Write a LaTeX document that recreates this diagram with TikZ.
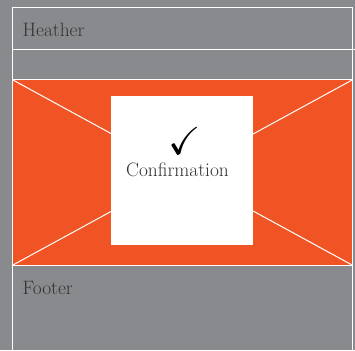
\documentclass[tikz,border=0pt]{standalone}
\usepackage{amssymb}
\usepackage{graphicx}
\usetikzlibrary{positioning}

\definecolor{pagegray}{HTML}{898A8E}
\definecolor{bannerorange}{HTML}{F15424}
\definecolor{inkgray}{HTML}{333333}

\begin{document}
\begin{tikzpicture}[x=1pt, y=-1pt,
    row/.style={draw=white, line width=1pt, minimum width=340pt, inner sep=0pt, anchor=north west},
    caption/.style={font=\fontsize{19.4}{22}\selectfont, text=inkgray, inner sep=0pt},
]
\clip (0,0) rectangle (355,350);
\fill[pagegray] (0,0) rectangle (355,350);
\node[row, minimum height=42.5pt] (header) at (12,7) {};
\node[row, minimum height=30pt] (spacer) at (12,49.5) {};
\node[row, minimum height=185pt, fill=bannerorange] (banner) at (12,79.5) {};
\node[row, minimum height=100pt] (footer) at (12,264.5) {};
% header rule runs on to the page edge
\coordinate (edge) at (355,49.5);
\draw[white, line width=1pt] (spacer.north east) -- (edge);
\draw[white, line width=1pt] (banner.north west) -- (banner.south east);
\draw[white, line width=1pt] (banner.north east) -- (banner.south west);
\node[fill=white, minimum width=142pt, minimum height=149pt, inner sep=0pt] (card) at (182,170.5) {};
\node[caption, anchor=base west] (title) at (22.5,37) {Heather};
\node[caption, anchor=base west] (foot) at (22.5,294) {Footer};
\node[inner sep=0pt, text=black] (tick) at (184.5,140.8) {\scalebox{3.9}{$\checkmark$}};
\node[caption, anchor=base] (confirm) at (177.5,176.7) {Confirmation};
\end{tikzpicture}
\end{document}
